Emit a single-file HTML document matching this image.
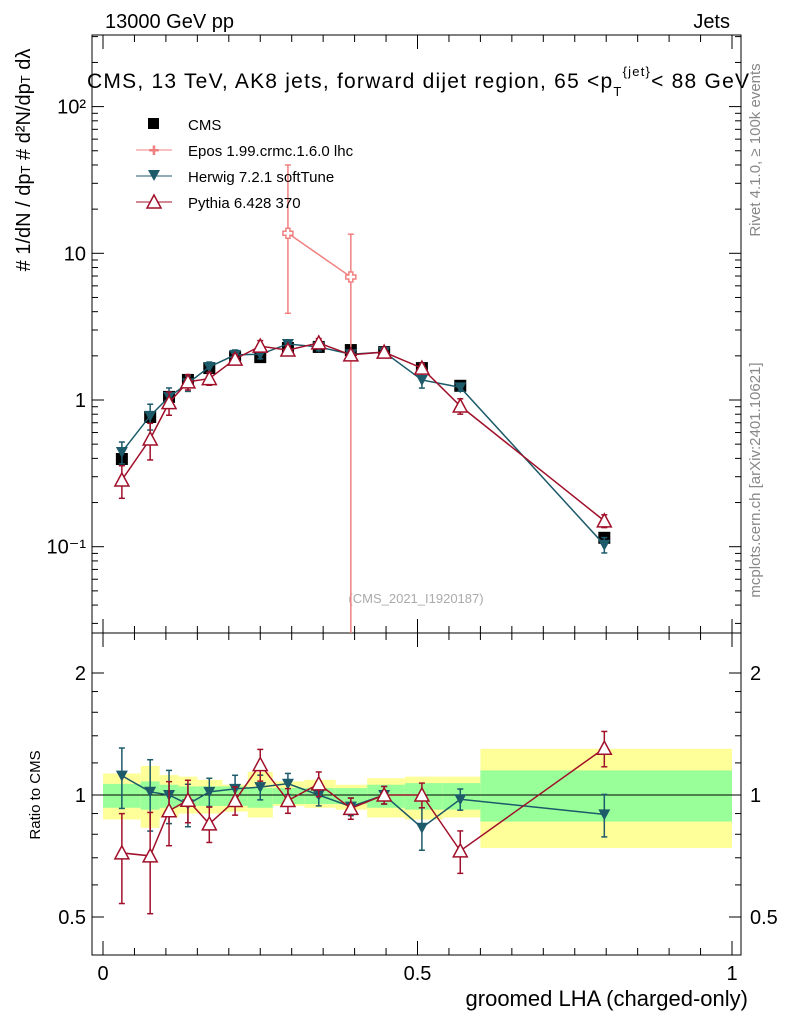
<!DOCTYPE html>
<html><head><meta charset="utf-8"><style>
body{margin:0;background:#fff}
svg text{font-family:"Liberation Sans",sans-serif}
</style></head><body>
<svg id="c" width="786" height="1024" xmlns="http://www.w3.org/2000/svg">
<text x="105" y="28" font-size="20">13000 GeV pp</text>
<text x="730" y="28" font-size="20" text-anchor="end">Jets</text>
<text x="418" y="88" font-size="21" text-anchor="middle" textLength="662">CMS, 13 TeV, AK8 jets, forward dijet region, 65 &lt;p<tspan font-size="13" dy="8">T</tspan><tspan font-size="13" dy="-20">{jet}</tspan><tspan dy="12">&lt; 88 GeV</tspan></text>
<g transform="translate(30,160) rotate(-90)"><text x="0" y="0" font-size="20" text-anchor="middle"># 1/dN / dp<tspan font-size="13">T</tspan> # d²N/dp<tspan font-size="13">T</tspan> dλ</text></g>
<text transform="translate(760,150) rotate(-90)" font-size="15" fill="#888" text-anchor="middle">Rivet 4.1.0, ≥ 100k events</text>
<text transform="translate(760,480) rotate(-90)" font-size="15" fill="#888" text-anchor="middle">mcplots.cern.ch [arXiv:2401.10621]</text>
<text x="416" y="603" font-size="13" fill="#aaa" text-anchor="middle">(CMS_2021_I1920187)</text>
<text transform="translate(40,795) rotate(-90)" font-size="15" text-anchor="middle">Ratio to CMS</text>
<text x="748" y="1006" font-size="22" text-anchor="end">groomed LHA (charged-only)</text>
<g id="bands"></g><g id="axes"></g><g id="marks"></g>
<g>
<rect x="148" y="118" width="11" height="11" fill="#000"/>
<text x="188" y="130" font-size="15">CMS</text>
<line x1="136" y1="150" x2="172" y2="150" stroke="#f08080"/>
<text x="154" y="155" font-size="13" fill="#f08080" text-anchor="middle">✚</text>
<text x="188" y="156" font-size="15">Epos 1.99.crmc.1.6.0 lhc</text>
<line x1="136" y1="176" x2="172" y2="176" stroke="#1d5a6a"/>
<path d="M148,170 L160,170 L154,181 Z" fill="#1d5a6a"/>
<text x="188" y="182" font-size="15">Herwig 7.2.1 softTune</text>
<line x1="136" y1="202" x2="172" y2="202" stroke="#a0102a"/>
<path d="M154,195 L161,208 L147,208 Z" fill="#fff" stroke="#a0102a" stroke-width="1.5"/>
<text x="188" y="208" font-size="15">Pythia 6.428 370</text>
</g>
</svg>
<script>
const xs=[0.030,0.075,0.105,0.135,0.169,0.210,0.250,0.294,0.343,0.394,0.447,0.507,0.568,0.797];
const edges=[0,0.06,0.09,0.12,0.15,0.19,0.23,0.27,0.32,0.37,0.42,0.48,0.54,0.6,1.0];
const cms=[0.396,0.766,1.05,1.37,1.65,1.96,1.96,2.26,2.30,2.19,2.12,1.65,1.25,0.115];
const herwig=[0.442,0.78,1.05,1.30,1.68,2.03,2.05,2.41,2.30,2.05,2.12,1.37,1.22,0.103];
const pythia=[0.285,0.542,0.96,1.33,1.40,1.90,2.33,2.19,2.45,2.03,2.12,1.65,0.91,0.150];
const herwigErr=[0.17,0.2,0.15,0.12,0.08,0.08,0.07,0.06,0.06,0.05,0.05,0.12,0.06,0.12];
const pythiaErr=[0.25,0.28,0.18,0.12,0.10,0.08,0.09,0.07,0.07,0.06,0.05,0.07,0.12,0.10];
const eposX=[0.294,0.394];
const epos=[13.7,6.9];
const eposLo=[3.9,0.01];
const eposHi=[40,13.5];
const yelUp=[1.13,1.18,1.12,1.11,1.09,1.06,1.14,1.08,1.09,1.06,1.10,1.11,1.11,1.30];
const yelDn=[0.87,0.83,0.88,0.90,0.90,0.91,0.88,0.94,0.93,0.92,0.88,0.87,0.88,0.74];
const grnUp=[1.065,1.08,1.06,1.05,1.05,1.05,1.04,1.04,1.04,1.04,1.06,1.07,1.07,1.15];
const grnDn=[0.93,0.92,0.93,0.94,0.94,0.94,0.93,0.95,0.95,0.95,0.93,0.92,0.92,0.86];
const NS='http://www.w3.org/2000/svg';
const X=v=>103+629*v, Y=v=>400-146.7*Math.log10(v), R=r=>795-122*Math.log2(r);
function el(p,t,a){const e=document.createElementNS(NS,t);for(const k in a)e.setAttribute(k,a[k]);document.getElementById(p).appendChild(e);return e;}
for(let i=0;i<xs.length;i++){
 let e=el('bands','rect',{x:X(edges[i]),y:R(yelUp[i]),width:X(edges[i+1])-X(edges[i]),height:R(yelDn[i])-R(yelUp[i]),fill:'#ffff99'});
 
 
 e=el('bands','rect',{x:X(edges[i]),y:R(grnUp[i]),width:X(edges[i+1])-X(edges[i]),height:R(grnDn[i])-R(grnUp[i]),fill:'#99ff99'});
 
 
}
let f=el('axes','rect',{x:92,y:35,width:649,height:598,fill:'none',stroke:'#000'});

f=el('axes','rect',{x:92,y:633,width:649,height:322,fill:'none',stroke:'#000'});

el('axes','line',{x1:92,x2:741,y1:795,y2:795,stroke:'#000'});
for(let d=-2;d<=2;d++)for(let m=1;m<10;m++){const v=m*Math.pow(10,d);const y=Y(v);if(y<35||y>633)continue;const L=m==1?12:6;
 el('axes','line',{x1:92,x2:92+L,y1:y,y2:y,stroke:'#000'});el('axes','line',{x1:741-L,x2:741,y1:y,y2:y,stroke:'#000'});}
const ylab=[[0.1,'10⁻¹'],[1,'1'],[10,'10'],[100,'10²']];
ylab.forEach(([v,t])=>{const e=el('axes','text',{x:86,y:Y(v)+7,'font-size':20,'text-anchor':'end'});e.textContent=t;});
[0.5,0.6,0.7,0.8,0.9,1,1.2,1.4,1.6,1.8,2].forEach(v=>{const y=R(v);const L=(v==0.5||v==1||v==2)?12:6;
 el('axes','line',{x1:92,x2:92+L,y1:y,y2:y,stroke:'#000'});el('axes','line',{x1:741-L,x2:741,y1:y,y2:y,stroke:'#000'});});
[[0.5,'0.5'],[1,'1'],[2,'2']].forEach(([v,t])=>{let e=el('axes','text',{x:86,y:R(v)+7,'font-size':20,'text-anchor':'end'});e.textContent=t;
 e=el('axes','text',{x:750,y:R(v)+7,'font-size':20});e.textContent=t;});
for(let i=0;i<=20;i++){const v=i/20,x=X(v),L=i%10==0?14:7;
 [[633,-1],[955,-1],[35,1],[633,1]].forEach(([y,s])=>el('axes','line',{x1:x,x2:x,y1:y,y2:y+s*L,stroke:'#000'}));}
[[0,'0'],[0.5,'0.5'],[1,'1']].forEach(([v,t])=>{const e=el('axes','text',{x:X(v),y:980,'font-size':20,'text-anchor':'middle'});e.textContent=t;});
function series(vals,errs,col,kind,name,isRatio){
 const pts=xs.map((x,i)=>[X(x),isRatio?R(vals[i]/cms[i]):Y(vals[i])]);
 const l=el('marks','polyline',{points:pts.map(p=>p.join(',')).join(' '),fill:'none',stroke:col,'stroke-width':1.5});
 
 
 xs.forEach((x,i)=>{const v=isRatio?vals[i]/cms[i]:vals[i];const f=isRatio?R:Y;
  const y1=f(v*(1+errs[i])),y2=f(v*(1-errs[i])),px=X(x);
  el('marks','line',{x1:px,x2:px,y1:y1,y2:y2,stroke:col,'stroke-width':1.5});
  el('marks','line',{x1:px-3,x2:px+3,y1:y1,y2:y1,stroke:col,'stroke-width':1.5});
  el('marks','line',{x1:px-3,x2:px+3,y1:y2,y2:y2,stroke:col,'stroke-width':1.5});
  const py=f(v);let m;
  if(kind=='down')m=el('marks','path',{d:`M${px-6},${py-5} L${px+6},${py-5} L${px},${py+6} Z`,fill:col});
  else m=el('marks','path',{d:`M${px},${py-7} L${px+7},${py+6} L${px-7},${py+6} Z`,fill:'#fff',stroke:col,'stroke-width':1.5});
  
  
 });
}
xs.forEach((x,i)=>{const m=el('marks','rect',{x:X(x)-6,y:Y(cms[i])-6,width:12,height:12,fill:'#000'});
 
 });
const ep=eposX.map((x,i)=>[X(x),Y(epos[i])]);
let pl=el('marks','polyline',{points:ep.map(p=>p.join(',')).join(' '),fill:'none',stroke:'#f08080','stroke-width':1.5});


eposX.forEach((x,i)=>{const px=X(x);const y1=Y(eposHi[i]),y2=Math.min(633,Y(eposLo[i]));
 el('marks','line',{x1:px,x2:px,y1:y1,y2:y2,stroke:'#f08080','stroke-width':1.5});
 el('marks','line',{x1:px-3,x2:px+3,y1:y1,y2:y1,stroke:'#f08080','stroke-width':1.5});
 if(y2<633)el('marks','line',{x1:px-3,x2:px+3,y1:y2,y2:y2,stroke:'#f08080','stroke-width':1.5});
 const m=el('marks','path',{d:`M${px-2},${Y(epos[i])-5}h4v3h3v4h-3v3h-4v-3h-3v-4h3z`,fill:'#fff',stroke:'#f08080','stroke-width':1.5});
 
 });
series(herwig,herwigErr,'#1d5a6a','down','herwig',false);
series(pythia,pythiaErr,'#a0102a','up','pythia',false);
series(herwig,herwigErr,'#1d5a6a','down','herwig-ratio',true);
series(pythia,pythiaErr,'#a0102a','up','pythia-ratio',true);
</script>
</body></html>
